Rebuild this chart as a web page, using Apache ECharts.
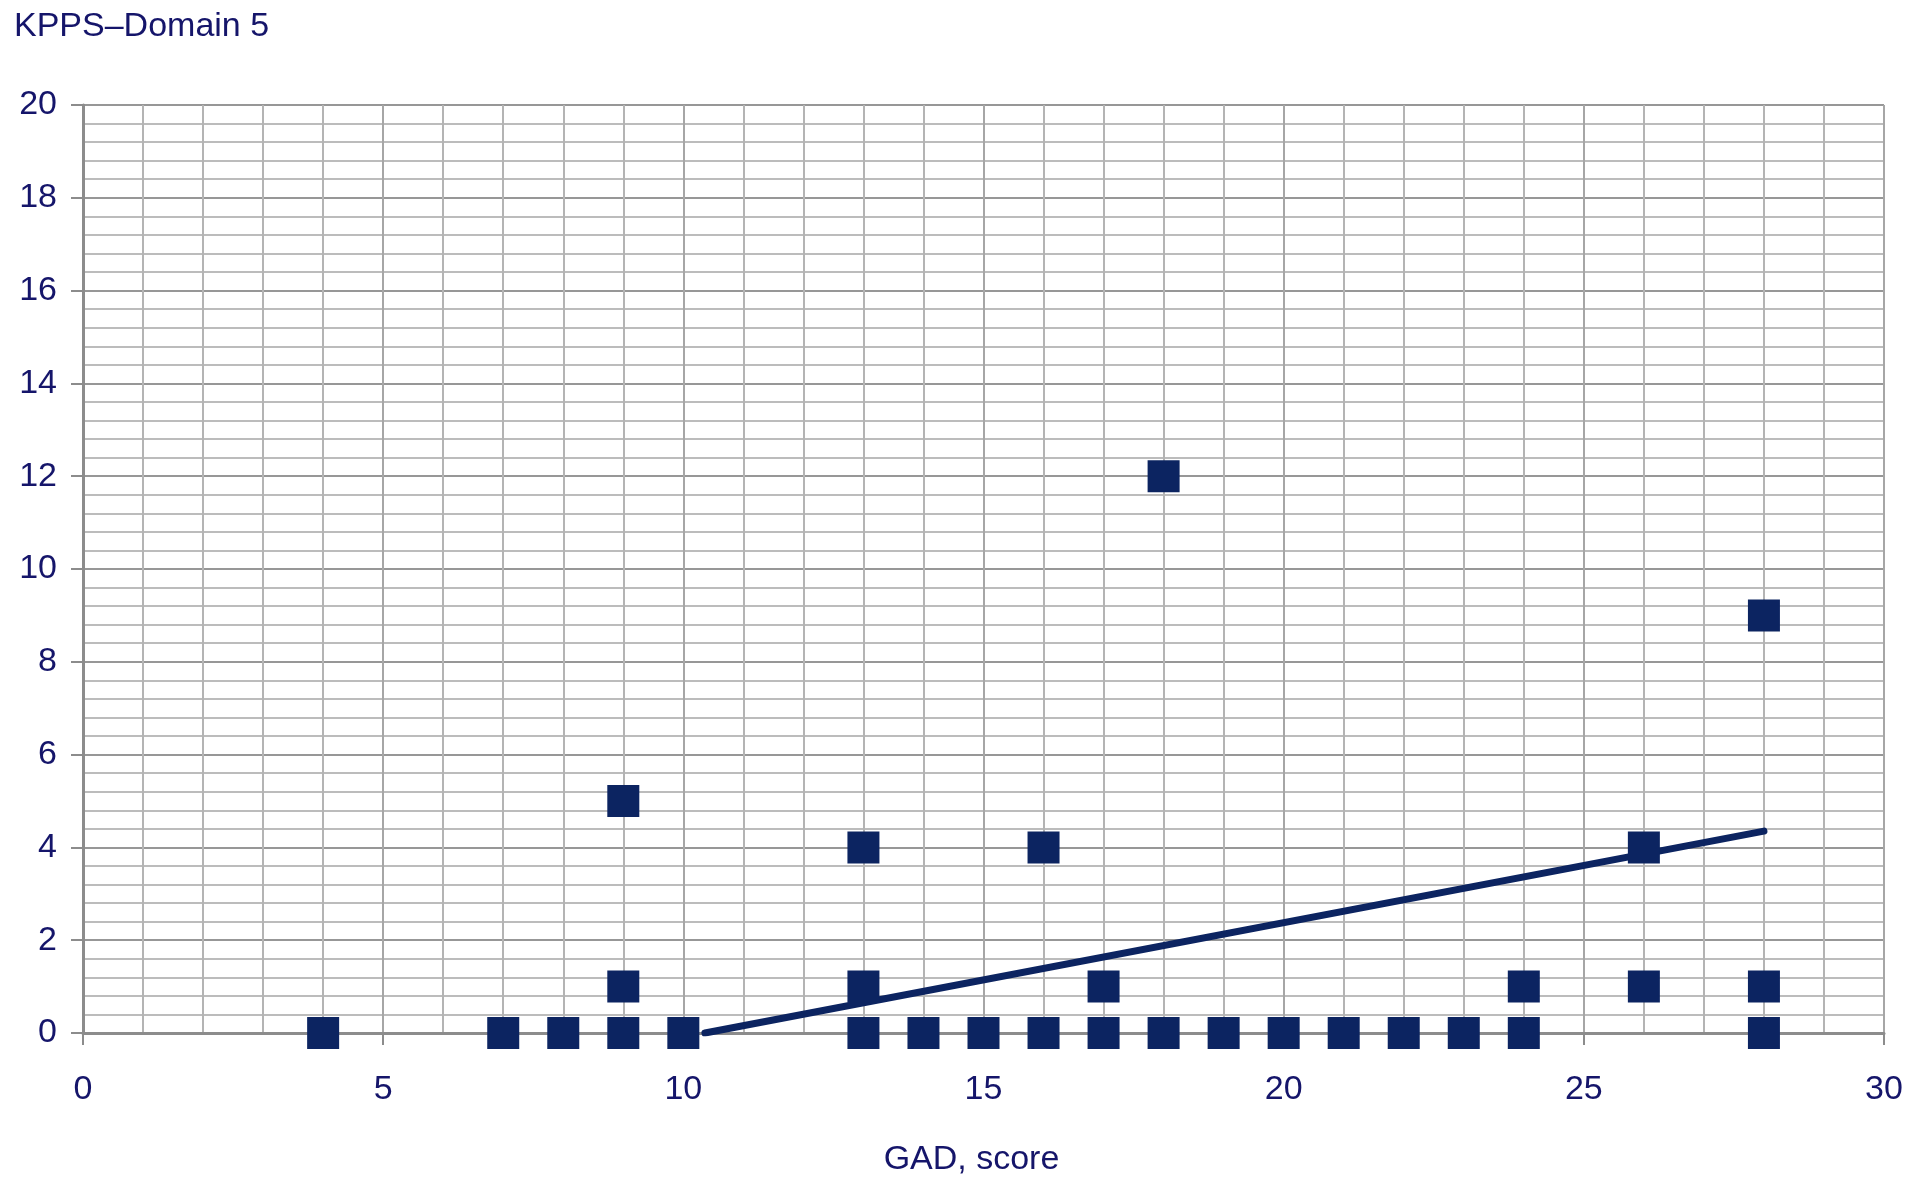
<!DOCTYPE html>
<html>
<head>
<meta charset="utf-8">
<script src="https://cdn.jsdelivr.net/npm/echarts@6/dist/echarts.min.js"></script>
<style>html,body{margin:0;padding:0;background:#fff;}#c{width:1913px;height:1185px;}</style>
</head>
<body>
<div id="c"></div>
<script>
// GAD score (x) and KPPS Domain 5 (y) observations
const gadScores = [4, 7, 8, 9, 10, 13, 14, 15, 16, 17, 18, 19, 20, 21, 22, 23, 24, 28,
                   9, 13, 17, 24, 26, 28,
                   13, 16, 26,
                   9, 18, 28];
const kppsValues = [0, 0, 0, 0, 0, 0, 0, 0, 0, 0, 0, 0, 0, 0, 0, 0, 0, 0,
                    1, 1, 1, 1, 1, 1,
                    4, 4, 4,
                    5, 12, 9];
// Linear trend line endpoints (as drawn, clipped at y = 0)
const trendX = [10.36, 28];
const trendY = [0, 4.35];

const yTitle = 'KPPS\u2013Domain 5';
const xTitle = 'GAD, score';

const textColor = '#15156a';
const markColor = '#0c2461';

const chart = echarts.init(document.getElementById('c'));
chart.setOption({
  backgroundColor: '#ffffff',
  animation: false,
  title: {
    text: yTitle, left: 9, top: 5,
    textStyle: { fontFamily: 'Liberation Sans', fontSize: 34, fontWeight: 'normal', color: textColor }
  },
  grid: { left: 83, right: 29, top: 105, bottom: 152 },
  xAxis: {
    type: 'value', min: 0, max: 30, interval: 5,
    name: xTitle, nameLocation: 'middle', nameGap: 110,
    nameTextStyle: { fontFamily: 'Liberation Sans', fontSize: 34, color: textColor, padding: [0, 24, 0, 0] },
    axisLine: { show: true, onZero: false, lineStyle: { color: '#8c8c8c', width: 3 } },
    axisTick: { show: true, inside: false, length: 12, lineStyle: { color: '#8c8c8c', width: 2 } },
    axisLabel: { margin: 40, fontFamily: 'Liberation Sans', fontSize: 34, color: textColor },
    splitLine: { show: true, lineStyle: { color: '#a6a6a6', width: 2 } },
    minorTick: { show: false, splitNumber: 5 },
    minorSplitLine: { show: true, lineStyle: { color: '#b4b4b4', width: 2 } }
  },
  yAxis: {
    type: 'value', min: 0, max: 20, interval: 2,
    axisLine: { show: true, onZero: false, lineStyle: { color: '#8c8c8c', width: 3 } },
    axisTick: { show: true, inside: false, length: 12, lineStyle: { color: '#8c8c8c', width: 2 } },
    axisLabel: { margin: 26, fontFamily: 'Liberation Sans', fontSize: 34, color: textColor },
    splitLine: { show: true, lineStyle: { color: '#979797', width: 2 } },
    minorTick: { show: false, splitNumber: 5 },
    minorSplitLine: { show: true, lineStyle: { color: '#bcbcbc', width: 2 } }
  },
  series: [
    {
      type: 'line',
      data: trendX.map((x, i) => [x, trendY[i]]),
      showSymbol: false, symbol: 'none',
      lineStyle: { color: markColor, width: 7, cap: 'round' },
      z: 2
    },
    {
      type: 'scatter',
      data: gadScores.map((x, i) => [x, kppsValues[i]]),
      symbol: 'rect', symbolSize: 32,
      itemStyle: { color: markColor, opacity: 1 },
      z: 3
    }
  ]
});
</script>
</body>
</html>
